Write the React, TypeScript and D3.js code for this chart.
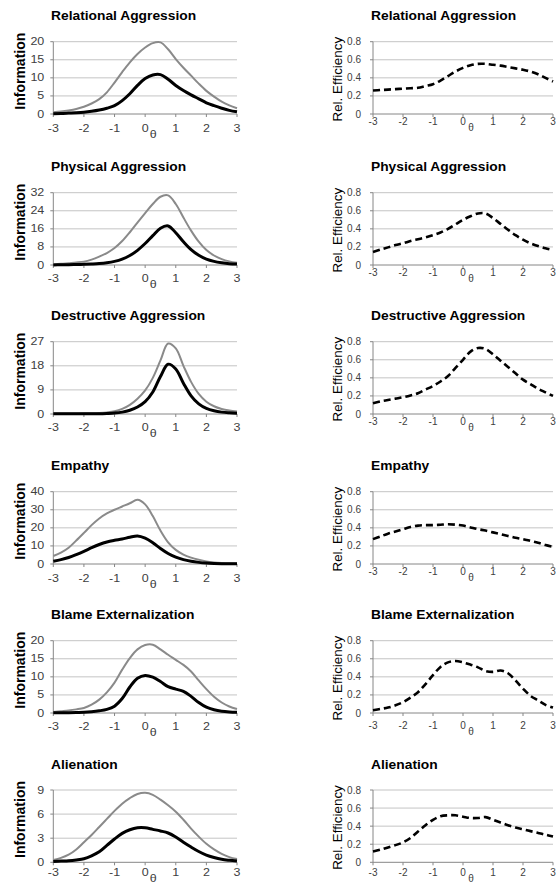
import React from "react";
import * as d3 from "d3";

// theta grid shared by every curve
const THETA = [
  -3, -2.75, -2.5, -2.25, -2, -1.75, -1.5, -1.25, -1, -0.75, -0.5, -0.25, 0,
  0.25, 0.5, 0.75, 1, 1.25, 1.5, 1.75, 2, 2.25, 2.5, 2.75, 3,
];
const X_TICKS = [-3, -2, -1, 0, 1, 2, 3];
const EFF_TICKS = [0, 0.2, 0.4, 0.6, 0.8];

const TITLES = [
  "Relational Aggression",
  "Physical Aggression",
  "Destructive Aggression",
  "Empathy",
  "Blame Externalization",
  "Alienation",
];
const INFO_TICKS = [
  [0, 5, 10, 15, 20],
  [0, 8, 16, 24, 32],
  [0, 9, 18, 27],
  [0, 10, 20, 30, 40],
  [0, 5, 10, 15, 20],
  [0, 3, 6, 9],
];

// gray curves (full) and black curves (short)
const relGray = [0.5, 0.7, 1.0, 1.4, 2.0, 2.9, 4.1, 6.0, 8.7, 11.6, 14.3, 16.6, 18.4, 19.6, 19.8, 17.9, 15.2, 12.8, 10.6, 8.4, 6.4, 4.8, 3.4, 2.4, 1.6];
const relBlack = [0.1, 0.15, 0.25, 0.35, 0.5, 0.75, 1.1, 1.6, 2.3, 3.7, 5.6, 7.9, 9.8, 10.8, 10.9, 9.6, 7.9, 6.5, 5.3, 4.2, 3.1, 2.3, 1.6, 1.0, 0.6];
const relEff = [0.26, 0.265, 0.27, 0.275, 0.28, 0.285, 0.29, 0.31, 0.33, 0.37, 0.42, 0.47, 0.51, 0.54, 0.555, 0.555, 0.545, 0.535, 0.52, 0.505, 0.49, 0.47, 0.44, 0.4, 0.36];

const phyGray = [0.3, 0.5, 0.8, 1.1, 1.5, 2.4, 3.7, 5.3, 7.5, 10.6, 14.5, 18.8, 23.0, 27.0, 30.2, 30.8, 27.0, 21.0, 15.2, 10.3, 6.6, 4.2, 2.6, 1.6, 1.0];
const phyBlack = [0.05, 0.1, 0.15, 0.2, 0.3, 0.45, 0.65, 1.0, 1.6, 2.6, 4.2, 6.5, 9.5, 13.0, 16.3, 17.3, 14.3, 10.3, 6.8, 4.3, 2.6, 1.6, 1.0, 0.6, 0.4];
const phyEff = [0.145, 0.17, 0.195, 0.22, 0.24, 0.265, 0.285, 0.305, 0.33, 0.36, 0.4, 0.45, 0.5, 0.54, 0.57, 0.57, 0.52, 0.455, 0.39, 0.33, 0.28, 0.24, 0.21, 0.185, 0.165];

const desGray = [0.2, 0.2, 0.2, 0.2, 0.25, 0.3, 0.4, 0.6, 1.0, 1.9, 3.4, 5.7, 8.8, 13.5, 20.0, 26.3, 24.5, 18.0, 12.0, 7.5, 4.6, 2.9, 1.9, 1.3, 0.9];
const desBlack = [0.05, 0.05, 0.05, 0.05, 0.06, 0.08, 0.1, 0.2, 0.35, 0.7, 1.4, 2.6, 4.6, 8.2, 14.0, 18.6, 16.8, 11.5, 6.8, 3.8, 2.1, 1.2, 0.7, 0.45, 0.3];
const desEff = [0.12, 0.14, 0.155, 0.17, 0.185, 0.205, 0.23, 0.27, 0.31, 0.36, 0.42, 0.51, 0.6, 0.69, 0.73, 0.72, 0.66, 0.59, 0.52, 0.45, 0.38, 0.33, 0.28, 0.24, 0.2];

const empGray = [4.4, 6.3, 9.0, 13.0, 17.2, 21.5, 25.2, 28.0, 30.0, 31.8, 33.6, 35.5, 33.0, 26.5, 18.5, 12.0, 7.8, 5.2, 3.5, 2.3, 1.4, 0.9, 0.6, 0.4, 0.3];
const empBlack = [1.5, 2.4, 3.6, 5.2, 7.0, 9.0, 10.8, 12.2, 13.1, 13.8, 14.8, 15.5, 14.3, 11.8, 8.6, 5.8, 3.8, 2.4, 1.5, 0.9, 0.5, 0.3, 0.2, 0.15, 0.1];
const empEff = [0.275, 0.305, 0.335, 0.36, 0.385, 0.41, 0.425, 0.43, 0.43, 0.435, 0.44, 0.435, 0.425, 0.405, 0.385, 0.37, 0.35, 0.33, 0.31, 0.29, 0.275, 0.255, 0.235, 0.21, 0.19];

const blaGray = [0.3, 0.5, 0.7, 1.0, 1.4, 2.3, 3.7, 5.7, 8.4, 12.0, 15.2, 17.6, 18.8, 18.9, 17.6, 16.1, 14.7, 13.3, 11.5, 9.0, 6.6, 4.5, 2.9, 1.8, 1.1];
const blaBlack = [0.05, 0.08, 0.1, 0.15, 0.2, 0.35, 0.6, 1.0, 1.9, 4.0, 7.2, 9.6, 10.4, 9.9, 8.7, 7.3, 6.6, 6.0, 4.6, 2.9, 1.6, 0.9, 0.5, 0.3, 0.2];
const blaEff = [0.03, 0.045, 0.06, 0.085, 0.12, 0.17, 0.23, 0.32, 0.42, 0.51, 0.56, 0.575, 0.56, 0.535, 0.505, 0.465, 0.455, 0.47, 0.44, 0.36, 0.27, 0.19, 0.14, 0.09, 0.06];

const aliGray = [0.3, 0.55, 0.95, 1.6, 2.5, 3.4, 4.4, 5.4, 6.4, 7.3, 8.0, 8.5, 8.65, 8.4, 7.8, 7.1, 6.3, 5.3, 4.2, 3.2, 2.3, 1.6, 1.05, 0.65, 0.4];
const aliBlack = [0.1, 0.15, 0.2, 0.3, 0.45, 0.8, 1.3, 2.1, 2.9, 3.6, 4.05, 4.3, 4.3, 4.1, 3.9, 3.65, 3.15, 2.5, 1.9, 1.35, 0.9, 0.6, 0.38, 0.25, 0.15];
const aliEff = [0.12, 0.14, 0.165, 0.19, 0.22, 0.27, 0.34, 0.41, 0.47, 0.51, 0.52, 0.52, 0.505, 0.49, 0.49, 0.5, 0.47, 0.44, 0.41, 0.385, 0.365, 0.345, 0.325, 0.305, 0.285];

const GRAY_SERIES = [relGray, phyGray, desGray, empGray, blaGray, aliGray];
const BLACK_SERIES = [relBlack, phyBlack, desBlack, empBlack, blaBlack, aliBlack];
const EFF_SERIES = [relEff, phyEff, desEff, empEff, blaEff, aliEff];

// layout
const ROW_TOP = [41.7, 192.7, 341.7, 491.7, 640.7, 790];
const PLOT_H = 72.3;
const LEFT_XLAB_DY = [17.7, 17.3, 17.3, 17.7, 17.3, 14];
const RIGHT_XLAB_DY = [10.7, 11, 11, 10.7, 15.7, 14];
const FONT = "'Liberation Sans', Arial, sans-serif";
const TICK_COLOR = "#404040";

function Panel({ row, right }: { row: number; right: boolean }) {
  const top = ROW_TOP[row];
  const bottom = top + PLOT_H;
  const x0 = right ? 373 : 53.3;
  const x1 = right ? 553 : 237;
  const ticks = right ? EFF_TICKS : INFO_TICKS[row];
  const x = d3.scaleLinear().domain([-3, 3]).range([x0, x1]);
  const y = d3.scaleLinear().domain([0, ticks[ticks.length - 1]]).range([bottom, top]);
  const line = d3
    .line<number>()
    .x((_, i) => x(THETA[i]))
    .y((d) => y(d))
    .curve(d3.curveCatmullRom);
  const labDy = right ? RIGHT_XLAB_DY[row] : LEFT_XLAB_DY[row];
  const tickRight = right ? x0 - 12 : x0 - 9;
  const sx = right ? 1.0 : 1.25;

  return (
    <g fontFamily={FONT}>
      <text
        transform={`translate(${right ? 371 : 51},${top - 21.5}) scale(1.15,1)`}
        fontSize={12}
        fontWeight="bold"
        fill="#000"
      >
        {TITLES[row]}
      </text>
      {ticks.slice(1).map((t) => (
        <line key={t} x1={x0} x2={x1} y1={y(t)} y2={y(t)} stroke="#c4c4c4" strokeWidth={1} />
      ))}
      <line x1={x0} x2={x0} y1={top} y2={bottom} stroke="#868686" />
      <line x1={x0} x2={x1} y1={bottom} y2={bottom} stroke="#868686" />
      {ticks.map((t) => (
        <g key={"y" + t}>
          <line x1={x0 - 3} x2={x0} y1={y(t)} y2={y(t)} stroke="#868686" />
          <text
            transform={`translate(${tickRight},${y(t) + 3.5}) scale(${sx},1)`}
            textAnchor="end"
            fontSize={10}
            fill={TICK_COLOR}
          >
            {right ? (t === 0 ? "0" : t.toFixed(1)) : t}
          </text>
        </g>
      ))}
      {X_TICKS.map((t) => (
        <g key={"x" + t}>
          <line x1={x(t)} x2={x(t)} y1={bottom} y2={bottom + 3} stroke="#868686" />
          <text
            transform={`translate(${x(t)},${bottom + labDy}) scale(${sx},1)`}
            textAnchor="middle"
            fontSize={10}
            fill={TICK_COLOR}
          >
            {t}
          </text>
        </g>
      ))}
      <text
        transform={`translate(${x(0) + 8},${bottom + labDy + 6}) scale(${sx},1)`}
        textAnchor="middle"
        fontSize={10}
        fill={TICK_COLOR}
      >
        θ
      </text>
      {right ? (
        <>
          <text
            transform={`translate(341.7,${top + 37.5}) rotate(-90)`}
            textAnchor="middle"
            fontSize={13.4}
            fill="#000"
          >
            Rel. Efficiency
          </text>
          <path
            d={line(EFF_SERIES[row]) ?? ""}
            fill="none"
            stroke="#000"
            strokeWidth={2.6}
            strokeDasharray="7,4"
          />
        </>
      ) : (
        <>
          <text
            transform={`translate(25,${top + 29.5}) rotate(-90)`}
            textAnchor="middle"
            fontSize={14}
            fontWeight="bold"
            fill="#000"
          >
            Information
          </text>
          <path d={line(GRAY_SERIES[row]) ?? ""} fill="none" stroke="#8a8a8a" strokeWidth={2} />
          <path d={line(BLACK_SERIES[row]) ?? ""} fill="none" stroke="#000" strokeWidth={3} />
        </>
      )}
    </g>
  );
}

export default function App() {
  return (
    <svg
      width={556}
      height={891}
      style={{ position: "absolute", left: 0, top: 0, background: "#fff" }}
    >
      {TITLES.map((_, i) => (
        <g key={i}>
          <Panel row={i} right={false} />
          <Panel row={i} right={true} />
        </g>
      ))}
    </svg>
  );
}
